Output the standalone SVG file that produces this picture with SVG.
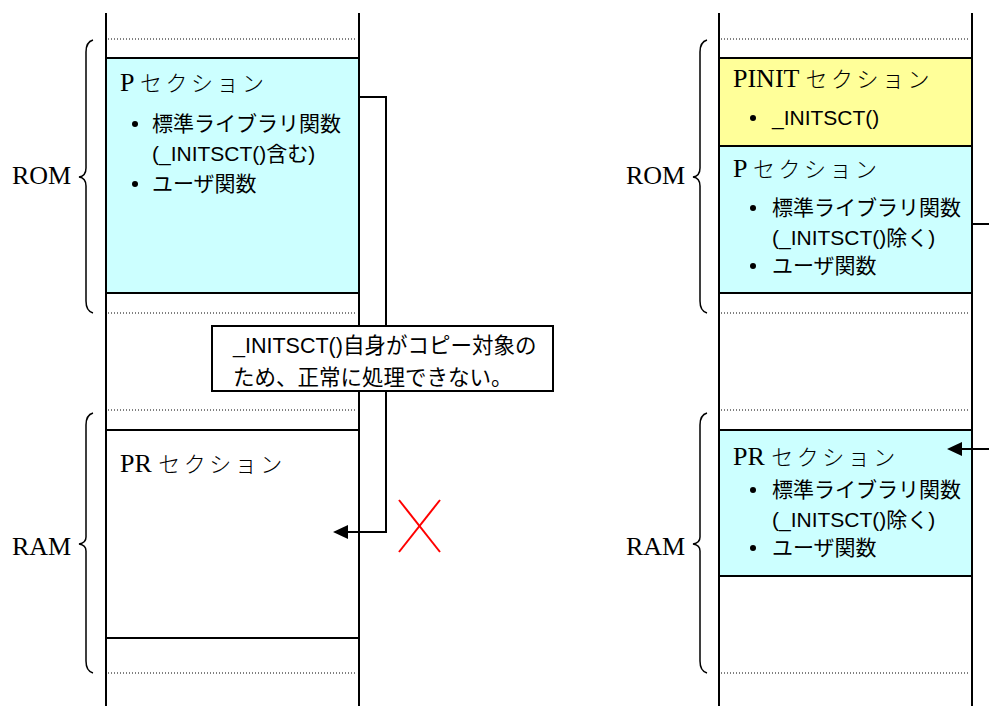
<svg xmlns="http://www.w3.org/2000/svg" width="989" height="706" viewBox="0 0 989 706">
<defs>
<style>
.col{stroke:#000;stroke-width:2;fill:none}
.dot{stroke:#000;stroke-width:1;stroke-dasharray:1 2;fill:none}
.box{stroke:#000;stroke-width:2}
.cyan{fill:#CCFFFF}
.yel{fill:#FFFF99}
.wht{fill:#FFFFFF}
.ttl{font-family:"Liberation Serif","Noto Sans CJK JP",serif;font-size:26px;fill:#000}
.kana{font-family:"Noto Sans CJK JP",sans-serif;font-size:22px;letter-spacing:3.5px;font-weight:300}
.txt{font-family:"Liberation Sans","Noto Sans CJK JP",sans-serif;font-size:21px;fill:#000}
.note{font-family:"Liberation Sans","Noto Sans CJK JP",sans-serif;font-size:21.5px;fill:#000}
.mem{font-family:"Liberation Serif",serif;font-size:26px;fill:#000}
.brace{fill:none;stroke:#000;stroke-width:1.5}
.conn{stroke:#000;stroke-width:2;fill:none}
.bul{fill:#000}
</style>
<marker id="arr" markerUnits="userSpaceOnUse" markerWidth="15" markerHeight="14" refX="0" refY="7" orient="auto">
<path d="M0,0 L15,7 L0,14 z" fill="#000"/>
</marker>
</defs>

<!-- Left memory map -->
<g id="left-map">
<line class="col" x1="106" y1="13" x2="106" y2="706"/>
<line class="col" x1="359" y1="13" x2="359" y2="706"/>
<line class="dot" x1="108" y1="39" x2="357" y2="39"/>
<line class="dot" x1="108" y1="313" x2="357" y2="313"/>
<line class="dot" x1="108" y1="410" x2="357" y2="410"/>
<line class="dot" x1="108" y1="673" x2="357" y2="673"/>
</g>

<g id="left-rom-label">
<path class="brace" d="M93,40 Q86,42 86,52 L86,168 Q86,176 79,177 Q86,178 86,186 L86,301 Q86,311 93,313"/>
<text class="mem" x="12" y="184">ROM</text>
</g>
<g id="left-ram-label">
<path class="brace" d="M93,413 Q86,415 86,425 L86,537 Q86,543 79,544 Q86,545 86,551 L86,661 Q86,671 93,673"/>
<text class="mem" x="12" y="555">RAM</text>
</g>

<g id="left-p-section">
<rect class="box cyan" x="106" y="58" width="253" height="235"/>
<text class="ttl" x="120" y="91">P <tspan class="kana">セクション</tspan></text>
<circle class="bul" cx="135" cy="124" r="3"/>
<text class="txt" x="152" y="131">標準ライブラリ関数</text>
<text class="txt" x="152" y="161">(_INITSCT()含む)</text>
<circle class="bul" cx="135" cy="184" r="3"/>
<text class="txt" x="152" y="191">ユーザ関数</text>
</g>

<g id="left-pr-section">
<rect class="box wht" x="106" y="430" width="253" height="208"/>
<text class="ttl" x="120" y="472">PR <tspan class="kana">セクション</tspan></text>
</g>

<!-- Right memory map -->
<g id="right-map">
<line class="col" x1="719" y1="13" x2="719" y2="706"/>
<line class="col" x1="972" y1="13" x2="972" y2="706"/>
<line class="dot" x1="721" y1="39" x2="970" y2="39"/>
<line class="dot" x1="721" y1="313" x2="970" y2="313"/>
<line class="dot" x1="721" y1="410" x2="970" y2="410"/>
<line class="dot" x1="721" y1="673" x2="970" y2="673"/>
</g>

<g id="right-rom-label">
<path class="brace" d="M707,40 Q700,42 700,52 L700,168 Q700,176 693,177 Q700,178 700,186 L700,301 Q700,311 707,313"/>
<text class="mem" x="626" y="184">ROM</text>
</g>
<g id="right-ram-label">
<path class="brace" d="M707,413 Q700,415 700,425 L700,537 Q700,543 693,544 Q700,545 700,551 L700,661 Q700,671 707,673"/>
<text class="mem" x="626" y="555">RAM</text>
</g>

<g id="right-pinit-section">
<rect class="box yel" x="719" y="58" width="253" height="88"/>
<text class="ttl" x="733" y="87">PINIT <tspan class="kana">セクション</tspan></text>
<circle class="bul" cx="753" cy="118" r="3"/>
<text class="txt" x="772" y="125">_INITSCT()</text>
</g>

<g id="right-p-section">
<rect class="box cyan" x="719" y="146" width="253" height="147"/>
<text class="ttl" x="733" y="177">P <tspan class="kana">セクション</tspan></text>
<circle class="bul" cx="753" cy="208" r="3"/>
<text class="txt" x="772" y="215">標準ライブラリ関数</text>
<text class="txt" x="772" y="245">(_INITSCT()除く)</text>
<circle class="bul" cx="753" cy="266" r="3"/>
<text class="txt" x="772" y="273">ユーザ関数</text>
</g>

<g id="right-pr-section">
<rect class="box cyan" x="719" y="430" width="253" height="146"/>
<text class="ttl" x="733" y="465">PR <tspan class="kana">セクション</tspan></text>
<circle class="bul" cx="753" cy="490" r="3"/>
<text class="txt" x="772" y="497">標準ライブラリ関数</text>
<text class="txt" x="772" y="527">(_INITSCT()除く)</text>
<circle class="bul" cx="753" cy="548" r="3"/>
<text class="txt" x="772" y="555">ユーザ関数</text>
</g>

<!-- Connectors -->
<g id="connectors">
<path class="conn" d="M359,97 H386 V532 H348" marker-end="url(#arr)"/>
<path class="conn" d="M972,224 H989"/>
<path class="conn" d="M989,449 H962" marker-end="url(#arr)"/>
</g>

<g id="note">
<rect class="box wht" x="212" y="326" width="341" height="65"/>
<text class="note" x="233" y="353">_INITSCT()自身がコピー対象の</text>
<text class="note" x="233" y="385">ため、正常に処理できない。</text>
</g>

<g id="cross">
<line x1="399" y1="500" x2="440" y2="552" stroke="#FF0000" stroke-width="2"/>
<line x1="440" y1="500" x2="399" y2="552" stroke="#FF0000" stroke-width="2"/>
</g>
</svg>
